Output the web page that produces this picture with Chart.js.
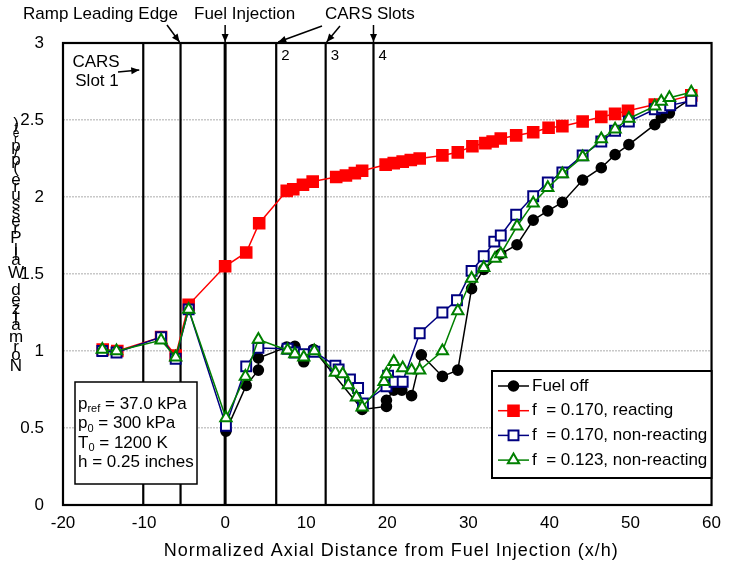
<!DOCTYPE html>
<html><head><meta charset="utf-8">
<script src="https://cdn.jsdelivr.net/npm/chart.js@4.4.1/dist/chart.umd.min.js"></script>
<style>html,body{margin:0;padding:0;background:#fff}</style>
</head><body>
<canvas id="c" width="729" height="567"></canvas>
<script>
// ---- data ----
const fuelOffX = [0.1, 2.6, 4.1, 4.1, 7.6, 8.6, 9.7, 10.9, 16.9, 19.9, 19.9, 20.8, 21.8, 23.0, 24.2, 26.8, 28.7, 30.4, 31.9, 34.0, 36.0, 38.0, 39.8, 41.6, 44.1, 46.4, 48.1, 49.8, 53.0, 53.8, 54.8, 57.5];
const fuelOffY = [0.48, 0.776, 0.876, 0.955, 1.025, 1.03, 0.93, 1.01, 0.62, 0.64, 0.68, 0.746, 0.746, 0.71, 0.975, 0.835, 0.876, 1.405, 1.53, 1.63, 1.69, 1.85, 1.91, 1.965, 2.11, 2.19, 2.275, 2.34, 2.47, 2.515, 2.545, 2.64];

const reactX = [-15.1, -13.3, -7.9, -6.1, -4.5, 0.0, 2.6, 4.2, 7.6, 8.4, 9.6, 10.8, 13.7, 14.9, 16.0, 16.9, 19.8, 20.8, 21.9, 22.9, 24.0, 26.8, 28.7, 30.5, 32.1, 33.0, 34.0, 35.9, 38.0, 39.9, 41.6, 44.1, 46.4, 48.1, 49.7, 53.0, 57.5];
const reactY = [1.01, 1.0, 1.09, 0.97, 1.30, 1.55, 1.64, 1.83, 2.04, 2.05, 2.08, 2.10, 2.13, 2.14, 2.155, 2.17, 2.21, 2.22, 2.23, 2.24, 2.25, 2.27, 2.29, 2.33, 2.35, 2.36, 2.38, 2.40, 2.42, 2.45, 2.46, 2.49, 2.52, 2.54, 2.56, 2.60, 2.66];

const nonReact170X = [-15.15, -13.4, -7.9, -6.1, -4.5, 0.1, 2.6, 4.1, 7.7, 8.6, 9.7, 11.0, 13.6, 14.0, 15.4, 16.4, 17.0, 19.9, 20.1, 20.9, 21.9, 24.0, 26.8, 28.6, 30.4, 31.9, 33.2, 34.0, 35.9, 38.0, 39.8, 41.6, 44.1, 46.4, 48.1, 49.8, 53.0, 53.9, 54.9, 57.5];
const nonReact170Y = [1.0, 0.99, 1.09, 0.95, 1.27, 0.515, 0.90, 1.02, 1.015, 0.99, 0.98, 0.995, 0.905, 0.88, 0.815, 0.76, 0.66, 0.77, 0.84, 0.80, 0.80, 1.115, 1.25, 1.33, 1.52, 1.615, 1.71, 1.75, 1.885, 2.005, 2.095, 2.16, 2.27, 2.36, 2.43, 2.49, 2.57, 2.58, 2.595, 2.625];

const nonReact123X = [-15.15, -13.4, -7.9, -6.1, -4.5, 0.1, 2.5, 4.1, 7.7, 8.6, 9.7, 11.0, 13.6, 14.5, 15.2, 16.2, 16.9, 19.6, 19.9, 20.8, 21.9, 23.0, 24.0, 26.8, 28.7, 30.4, 31.9, 33.3, 34.0, 36.0, 38.0, 39.8, 41.6, 44.1, 46.4, 48.1, 49.8, 53.0, 53.8, 54.8, 57.5];
const nonReact123Y = [1.01, 1.0, 1.07, 0.96, 1.27, 0.565, 0.835, 1.075, 1.005, 0.98, 0.96, 1.0, 0.86, 0.85, 0.78, 0.70, 0.635, 0.80, 0.85, 0.93, 0.89, 0.875, 0.875, 1.0, 1.26, 1.47, 1.54, 1.60, 1.63, 1.81, 1.96, 2.06, 2.15, 2.26, 2.376, 2.44, 2.51, 2.59, 2.62, 2.645, 2.68];

const seriesNames = ['Fuel off', 'f  = 0.170, reacting', 'f  = 0.170, non-reacting', 'f  = 0.123, non-reacting'];
const markerLines = [-10.1, -5.5, 0, 6.3, 12.4, 18.3];   // CARS slot 1, ramp edge, injection, slots 2-4
const slotLabels = ['2', '3', '4'];
const infoLines = [['p', 'ref', ' = 37.0 kPa'], ['p', '0', ' = 300 kPa'], ['T', '0', ' = 1200 K'], ['h = 0.25 inches', '', '']];
const xTitle = 'Normalized Axial Distance from Fuel Injection (x/h)';
const yTitleMain = 'Normalized Wall Pressure (p/p';
const yTitleSub = 'ref';

const FONT = "'Liberation Sans', Arial, sans-serif";
const FS = 17;
const pts = (xs, ys) => xs.map((x, i) => ({x, y: ys[i]}));

const styles = [
  {color: '#000000', fill: '#000000', shape: 'circle', r: 4.8},
  {color: '#ff0000', fill: '#ff0000', shape: 'rect', r: 7.5},
  {color: '#000080', fill: '#ffffff', shape: 'rect', r: 7},
  {color: '#008000', fill: '#ffffff', shape: 'triangle', r: 6.5}
];
const dataArr = [pts(fuelOffX, fuelOffY), pts(reactX, reactY), pts(nonReact170X, nonReact170Y), pts(nonReact123X, nonReact123Y)];
const orders = [4, 3, 2, 1];

function arrow(ctx, x1, y1, x2, y2) {
  ctx.beginPath(); ctx.moveTo(x1, y1); ctx.lineTo(x2, y2); ctx.stroke();
  const a = Math.atan2(y2 - y1, x2 - x1), L = 8, W = 3.5;
  ctx.beginPath();
  ctx.moveTo(x2, y2);
  ctx.lineTo(x2 - L * Math.cos(a) + W * Math.sin(a), y2 - L * Math.sin(a) - W * Math.cos(a));
  ctx.lineTo(x2 - L * Math.cos(a) - W * Math.sin(a), y2 - L * Math.sin(a) + W * Math.cos(a));
  ctx.closePath(); ctx.fill();
}

function drawMarker(ctx, st, x, y) {
  ctx.save();
  ctx.fillStyle = st.fill; ctx.strokeStyle = st.color; ctx.lineWidth = 2;
  ctx.beginPath();
  if (st.shape === 'circle') ctx.arc(x, y, st.r, 0, Math.PI * 2);
  else if (st.shape === 'rect') { const s = st.r * Math.SQRT1_2; ctx.rect(x - s, y - s, 2 * s, 2 * s); }
  else { const r = st.r; for (let k = 0; k < 3; k++) { const a = k * 2 * Math.PI / 3; const px = x + Math.sin(a) * r, py = y - Math.cos(a) * r; k ? ctx.lineTo(px, py) : ctx.moveTo(px, py); } ctx.closePath(); }
  ctx.fill(); ctx.stroke();
  ctx.restore();
}

const decor = {
  id: 'decor',
  beforeDatasetsDraw(chart) {
    const {ctx, chartArea: ca, scales: {x}} = chart;
    ctx.save();
    ctx.strokeStyle = '#000';
    markerLines.forEach(v => {
      const px = x.getPixelForValue(v);
      ctx.lineWidth = v === 0 ? 3 : 2.2;
      ctx.beginPath(); ctx.moveTo(px, ca.top); ctx.lineTo(px, ca.bottom); ctx.stroke();
    });
    ctx.lineWidth = 2.2;
    ctx.strokeRect(ca.left, ca.top, ca.right - ca.left, ca.bottom - ca.top);
    ctx.restore();
  },
  afterDraw(chart) {
    const {ctx, chartArea: ca, scales: {x}} = chart;
    const P = v => x.getPixelForValue(v);
    ctx.save();
    ctx.fillStyle = '#000'; ctx.strokeStyle = '#000'; ctx.lineWidth = 1.5;
    ctx.font = FS + 'px ' + FONT; ctx.textBaseline = 'middle'; ctx.textAlign = 'left';
    // top annotations
    ctx.fillText('Ramp Leading Edge', 23, 14);
    ctx.fillText('Fuel Injection', 194, 14);
    ctx.fillText('CARS Slots', 325, 14);
    arrow(ctx, 167, 25, P(markerLines[1]) - 1, ca.top - 1);
    arrow(ctx, P(0), 25, P(0), ca.top - 1);
    arrow(ctx, 322, 26, P(markerLines[3]) + 2, ca.top - 1);
    arrow(ctx, 340, 26, P(markerLines[4]) + 1, ca.top - 1);
    arrow(ctx, P(markerLines[5]), 25, P(markerLines[5]), ca.top - 1);
    // slot numbers
    ctx.font = '15px ' + FONT;
    slotLabels.forEach((t, i) => ctx.fillText(t, P(markerLines[3 + i]) + 5, 56));
    // CARS slot 1
    ctx.font = FS + 'px ' + FONT; ctx.textAlign = 'center';
    ctx.fillText('CARS', 96, 62);
    ctx.fillText('Slot 1', 97, 81);
    arrow(ctx, 118, 72, P(markerLines[0]) - 4, 70);
    // x title
    ctx.font = '18px ' + FONT;
    try { ctx.letterSpacing = '1px'; } catch (e) {}
    ctx.fillText(xTitle, (ca.left + ca.right) / 2 + 4, 551);
    try { ctx.letterSpacing = '0px'; } catch (e) {}
    // y title: characters stacked upright
    ctx.textAlign = 'center';
    let cur = 372;
    const putChars = (s, size) => {
      ctx.font = size + 'px ' + FONT;
      for (const ch of s) {
        const w = ctx.measureText(ch).width * 1.0;
        ctx.fillText(ch, 16, cur - w / 2);
        cur -= w;
      }
    };
    putChars(yTitleMain, 17); putChars(yTitleSub, 12); putChars(')', 17);
    // info box
    ctx.fillStyle = '#fff'; ctx.fillRect(75, 382, 122, 102);
    ctx.strokeStyle = '#000'; ctx.lineWidth = 1.5; ctx.strokeRect(75, 382, 122, 102);
    ctx.fillStyle = '#000'; ctx.textAlign = 'left';
    infoLines.forEach((ln, i) => {
      const y = 404 + i * 19.5;
      let xx = 78;
      ctx.font = FS + 'px ' + FONT; ctx.fillText(ln[0], xx, y); xx += ctx.measureText(ln[0]).width;
      if (ln[1]) { ctx.font = '11px ' + FONT; ctx.fillText(ln[1], xx, y + 5); xx += ctx.measureText(ln[1]).width; }
      if (ln[2]) { ctx.font = FS + 'px ' + FONT; ctx.fillText(ln[2], xx, y); }
    });
    // legend
    const lx = 492, ly = 371, lw = ca.right - lx, lh = 107;
    ctx.fillStyle = '#fff'; ctx.fillRect(lx, ly, lw, lh);
    ctx.lineWidth = 2; ctx.strokeRect(lx, ly, lw, lh);
    ctx.font = FS + 'px ' + FONT;
    seriesNames.forEach((name, i) => {
      const y = 386 + i * 24.7, st = styles[i];
      ctx.strokeStyle = st.color; ctx.lineWidth = 1.5;
      ctx.beginPath(); ctx.moveTo(498, y); ctx.lineTo(529, y); ctx.stroke();
      drawMarker(ctx, st, 513.5, y);
      ctx.fillStyle = '#000'; ctx.fillText(name, 532, y);
    });
    ctx.restore();
  }
};

const datasets = dataArr.map((d, i) => ({
  label: seriesNames[i],
  data: d,
  order: orders[i],
  showLine: true,
  borderColor: styles[i].color,
  borderWidth: 1.5,
  pointStyle: styles[i].shape,
  pointRadius: styles[i].r,
  pointBackgroundColor: styles[i].fill,
  pointBorderColor: styles[i].color,
  pointBorderWidth: 2,
  pointHoverRadius: styles[i].r,
  tension: 0
}));

new Chart(document.getElementById('c'), {
  type: 'scatter',
  data: {datasets},
  plugins: [decor],
  options: {
    responsive: false, animation: false, devicePixelRatio: 1,
    layout: {padding: {top: 43, right: 16, left: 0, bottom: 0}},
    plugins: {legend: {display: false}, tooltip: {enabled: false}},
    scales: {
      x: {
        type: 'linear', min: -20, max: 60,
        ticks: {stepSize: 10, color: '#000', font: {family: FONT, size: FS}, padding: 8, maxRotation: 0},
        grid: {display: false, drawTicks: false},
        border: {display: false},
        title: {display: false},
        afterFit(s) { s.height = 62; }
      },
      y: {
        type: 'linear', min: 0, max: 3,
        ticks: {stepSize: 0.5, color: '#000', font: {family: FONT, size: FS}, padding: 19, callback: v => String(v)},
        grid: {drawTicks: false, lineWidth: 1.5, color: c => (c.tick && (c.tick.value === 0 || c.tick.value === 3)) ? 'rgba(0,0,0,0)' : '#c8c8c8'},
        border: {display: false, dash: [2, 1]},
        afterFit(s) { s.width = 63; }
      }
    }
  }
});
</script>
</body></html>
